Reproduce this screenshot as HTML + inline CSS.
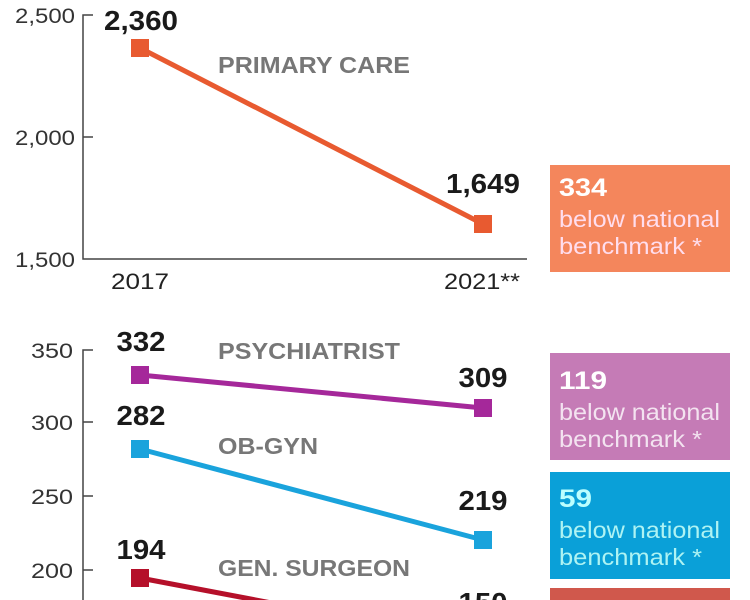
<!DOCTYPE html>
<html><head><style>
html,body{margin:0;padding:0;background:#fff;overflow:hidden;width:750px;height:600px;}
svg{display:block;overflow:hidden;}
svg text{font-family:"Liberation Sans",sans-serif;}
</style></head><body>
<svg width="750" height="600" viewBox="0 0 750 600" xmlns="http://www.w3.org/2000/svg">
<defs><clipPath id="c"><rect x="0" y="0" width="750" height="600"/></clipPath></defs>
<g clip-path="url(#c)">
<g fill="#333" font-size="21" text-anchor="end">
<text x="75" y="23" textLength="60" lengthAdjust="spacingAndGlyphs">2,500</text>
<text x="75" y="145" textLength="60" lengthAdjust="spacingAndGlyphs">2,000</text>
<text x="75" y="267" textLength="60" lengthAdjust="spacingAndGlyphs">1,500</text>
<text x="73" y="358" textLength="42" lengthAdjust="spacingAndGlyphs">350</text>
<text x="73" y="430" textLength="42" lengthAdjust="spacingAndGlyphs">300</text>
<text x="73" y="504" textLength="42" lengthAdjust="spacingAndGlyphs">250</text>
<text x="73" y="578" textLength="42" lengthAdjust="spacingAndGlyphs">200</text>
</g>
<g stroke="#444" stroke-width="1.5" fill="none">
<path d="M93,15H83V259H527"/>
<path d="M83,137H93"/>
<path d="M93,350H83V600"/>
<path d="M83,422H93M83,496H93M83,570H93"/>
</g>
<g font-size="22" fill="#222" text-anchor="middle">
<text x="140" y="289" textLength="58" lengthAdjust="spacingAndGlyphs">2017</text>
<text x="482" y="289" textLength="76" lengthAdjust="spacingAndGlyphs">2021**</text>
</g>
<g font-weight="bold" font-size="23" fill="#777">
<text x="218" y="73" textLength="192" lengthAdjust="spacingAndGlyphs">PRIMARY CARE</text>
<text x="218" y="359" textLength="182" lengthAdjust="spacingAndGlyphs">PSYCHIATRIST</text>
<text x="218" y="454" textLength="100" lengthAdjust="spacingAndGlyphs">OB-GYN</text>
<text x="218" y="576" textLength="192" lengthAdjust="spacingAndGlyphs">GEN. SURGEON</text>
</g>
<line x1="140" y1="48" x2="483" y2="224" stroke="#E85A30" stroke-width="5"/>
<rect x="131" y="39" width="18" height="18" fill="#E85A30"/>
<rect x="474" y="215" width="18" height="18" fill="#E85A30"/>
<line x1="140" y1="375" x2="483" y2="408" stroke="#A5289A" stroke-width="5"/>
<rect x="131" y="366" width="18" height="18" fill="#A5289A"/>
<rect x="474" y="399" width="18" height="18" fill="#A5289A"/>
<line x1="140" y1="449" x2="483" y2="540" stroke="#1AA3DC" stroke-width="5"/>
<rect x="131" y="440" width="18" height="18" fill="#1AA3DC"/>
<rect x="474" y="531" width="18" height="18" fill="#1AA3DC"/>
<line x1="140" y1="578" x2="340" y2="616" stroke="#B5102A" stroke-width="5"/>
<rect x="131" y="569" width="18" height="18" fill="#B5102A"/>
<g font-weight="bold" font-size="28" fill="#1a1a1a" text-anchor="middle">
<text x="141" y="30" textLength="74" lengthAdjust="spacingAndGlyphs">2,360</text>
<text x="483" y="193" textLength="74" lengthAdjust="spacingAndGlyphs">1,649</text>
<text x="141" y="351" textLength="49" lengthAdjust="spacingAndGlyphs">332</text>
<text x="483" y="387" textLength="49" lengthAdjust="spacingAndGlyphs">309</text>
<text x="141" y="425" textLength="49" lengthAdjust="spacingAndGlyphs">282</text>
<text x="483" y="510" textLength="49" lengthAdjust="spacingAndGlyphs">219</text>
<text x="141" y="559" textLength="49" lengthAdjust="spacingAndGlyphs">194</text>
<text x="483" y="612" textLength="49" lengthAdjust="spacingAndGlyphs">150</text>
</g>
<rect x="550" y="165" width="180" height="107" fill="#F4865C"/>
<rect x="550" y="353" width="180" height="107" fill="#C57BB6"/>
<rect x="550" y="472" width="180" height="107" fill="#0AA0D8"/>
<rect x="550" y="588" width="180" height="12" fill="#D0584C"/>
<g fill="#fff" font-size="23">
<text x="559" y="196" font-weight="bold" font-size="25" textLength="48" lengthAdjust="spacingAndGlyphs">334</text>
<text x="559" y="227" fill="#fde" textLength="161" lengthAdjust="spacingAndGlyphs">below national</text>
<text x="559" y="254" fill="#fde" textLength="143" lengthAdjust="spacingAndGlyphs">benchmark *</text>
<text x="559" y="389" font-weight="bold" font-size="25" textLength="48" lengthAdjust="spacingAndGlyphs">119</text>
<text x="559" y="420" fill="#f3e3f0" textLength="161" lengthAdjust="spacingAndGlyphs">below national</text>
<text x="559" y="447" fill="#f3e3f0" textLength="143" lengthAdjust="spacingAndGlyphs">benchmark *</text>
<text x="559" y="507" font-weight="bold" font-size="25" fill="#bff" textLength="33" lengthAdjust="spacingAndGlyphs">59</text>
<text x="559" y="538" fill="#aef3f3" textLength="161" lengthAdjust="spacingAndGlyphs">below national</text>
<text x="559" y="565" fill="#aef3f3" textLength="143" lengthAdjust="spacingAndGlyphs">benchmark *</text>
</g>
</g>
</svg>
</body></html>
